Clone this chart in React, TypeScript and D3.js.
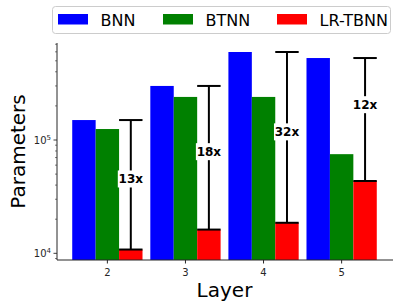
import { useEffect, useRef } from 'react';
import * as d3 from 'd3';

const layers = [2, 3, 4, 5];
const bnn = [150000, 300000, 598000, 529000];
const btnn = [125000, 240000, 240000, 75000];
const lrtbnn = [10800, 16200, 18600, 43500];
const ratios = ['13x', '18x', '32x', '12x'];
const ratioAt = [45300, 78900, 118000, 205000];

const seriesNames = ['BNN', 'BTNN', 'LR-TBNN'];
const seriesColors = ['#0000ff', '#008000', '#ff0000'];

const W = 402;
const H = 308;
const FONT = 'DejaVu Sans, sans-serif';

export default function App() {
  const svgRef = useRef<SVGSVGElement>(null);

  useEffect(() => {
    if (!svgRef.current) return;
    const svg = d3.select(svgRef.current);
    svg.selectAll('*').remove();

    const left = 57, right = 392, top = 43, bottom = 260;
    const x = d3.scaleLinear().domain([1.355, 5.645]).range([left, right]);
    const y = d3.scaleLog().domain([8730, 718000]).range([bottom, top]);

    const bw = 0.3;
    const series = [bnn, btnn, lrtbnn];
    const g = svg.append('g');

    // bars
    series.forEach((vals, si) => {
      g.selectAll(null)
        .data(layers)
        .join('rect')
        .attr('x', (d) => x(d - 0.45 + si * bw))
        .attr('width', x(bw) - x(0))
        .attr('y', (_, i) => y(vals[i]))
        .attr('height', (_, i) => bottom - y(vals[i]))
        .attr('fill', seriesColors[si]);
    });

    // reduction bars
    layers.forEach((l, i) => {
      const cx = x(l + 0.3);
      const half = x(0.15) - x(0);
      const y1 = y(bnn[i]);
      const y2 = y(lrtbnn[i]);
      g.append('line').attr('x1', cx).attr('x2', cx).attr('y1', y1).attr('y2', y2)
        .attr('stroke', '#000').attr('stroke-width', 2);
      [y1, y2].forEach((yy) => {
        g.append('line').attr('x1', cx - half).attr('x2', cx + half).attr('y1', yy).attr('y2', yy)
          .attr('stroke', '#000').attr('stroke-width', 2);
      });
      const ly = y(ratioAt[i]);
      g.append('rect').attr('x', cx - 13).attr('y', ly - 8.5).attr('width', 26).attr('height', 17)
        .attr('fill', '#fff');
      g.append('text').attr('x', cx).attr('y', ly).attr('dy', '0.36em')
        .attr('text-anchor', 'middle').attr('font-family', FONT)
        .attr('font-size', 12).attr('font-weight', 'bold').attr('fill', '#000')
        .text(ratios[i]);
    });

    // axes
    const axisColor = '#262626';
    svg.append('line').attr('x1', left).attr('x2', left).attr('y1', top).attr('y2', bottom)
      .attr('stroke', axisColor).attr('stroke-width', 1);
    svg.append('line').attr('x1', left).attr('x2', right + 1).attr('y1', bottom).attr('y2', bottom)
      .attr('stroke', axisColor).attr('stroke-width', 1);

    layers.forEach((l) => {
      svg.append('line').attr('x1', x(l)).attr('x2', x(l)).attr('y1', bottom).attr('y2', bottom + 3.5)
        .attr('stroke', axisColor);
      svg.append('text').attr('x', x(l)).attr('y', bottom + 16).attr('text-anchor', 'middle')
        .attr('font-family', FONT).attr('font-size', 10).attr('fill', '#262626').text(String(l));
    });

    // log ticks
    const [d0, d1] = y.domain();
    for (let e = 3; e <= 5; e++) {
      for (let m = 1; m <= 9; m++) {
        const v = m * Math.pow(10, e);
        if (v < d0 || v > d1) continue;
        const major = m === 1;
        svg.append('line').attr('x1', left - (major ? 3.5 : 2)).attr('x2', left)
          .attr('y1', y(v)).attr('y2', y(v)).attr('stroke', axisColor).attr('stroke-width', major ? 0.9 : 0.6);
        if (major) {
          const t = svg.append('text').attr('x', left - 6).attr('y', y(v) + 3.5)
            .attr('text-anchor', 'end').attr('font-family', FONT).attr('font-size', 10).attr('fill', '#262626');
          t.append('tspan').text('10');
          t.append('tspan').attr('font-size', 7).attr('dy', -4).text(String(e));
        }
      }
    }

    // axis titles
    svg.append('text').attr('x', (left + right) / 2).attr('y', 297).attr('text-anchor', 'middle')
      .attr('font-family', FONT).attr('font-size', 20).attr('fill', '#000').text('Layer');
    svg.append('text').attr('transform', `translate(25, ${(top + bottom) / 2}) rotate(-90)`)
      .attr('text-anchor', 'middle').attr('font-family', FONT).attr('font-size', 20).attr('fill', '#000')
      .text('Parameters');

    // legend
    const lg = svg.append('g');
    lg.append('rect').attr('x', 52.5).attr('y', 6.5).attr('width', 338).attr('height', 27).attr('rx', 3)
      .attr('fill', '#fff').attr('stroke', '#cccccc');
    const lx = [58, 163, 277];
    seriesNames.forEach((n, i) => {
      lg.append('rect').attr('x', lx[i]).attr('y', 14).attr('width', 30).attr('height', 10.5)
        .attr('fill', seriesColors[i]);
      lg.append('text').attr('x', lx[i] + 42.5).attr('y', 25.5).attr('font-family', FONT)
        .attr('font-size', 16).attr('fill', '#000').text(n);
    });
  }, []);

  return (
    <div style={{ position: 'absolute', left: 0, top: 0, width: W, height: H, background: '#fff' }}>
      <svg ref={svgRef} width={W} height={H} />
    </div>
  );
}
